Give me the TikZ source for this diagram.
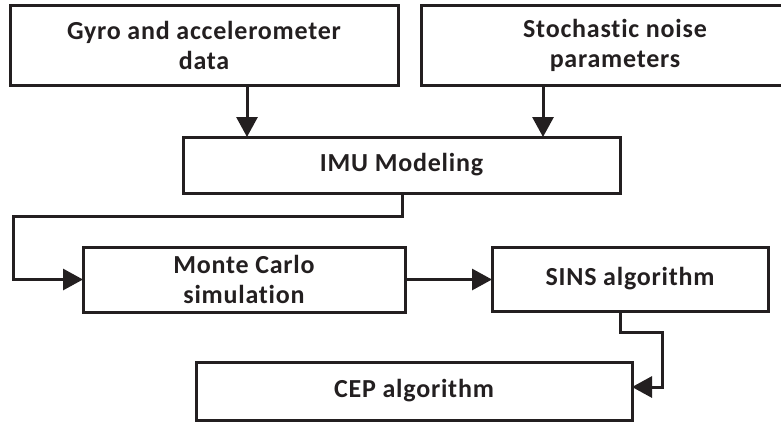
\documentclass[tikz,border=0pt]{standalone}
\usepackage{fontspec}
\setmainfont{Carlito}[Ligatures=NoCommon, LetterSpace=3]
\usetikzlibrary{arrows.meta}
\definecolor{ink}{HTML}{231F20}
\tikzset{
  box/.style={draw=ink, line width=3pt, rectangle, inner sep=0pt,
    align=center, font=\fontsize{26}{30}\selectfont\bfseries, text=ink},
  link/.style={draw=ink, line width=3pt},
  arr/.style={link, -{Triangle[length=20pt, width=21pt]}, shorten >=-1.5pt}
}
\begin{document}
\begin{tikzpicture}[x=1pt, y=-1pt]
  \useasboundingbox (0,0) rectangle (781,424);
  % input boxes
  \node[box, minimum width=388pt, minimum height=80pt] (gyro) at (204,45)
    {Gyro and accelerometer\\data};
  \node[box, minimum width=388pt, minimum height=80pt] (noise) at (615,45)
    {Stochastic noise\\parameters};
  % processing chain
  \node[box, minimum width=437pt, minimum height=56pt] (imu) at (401.5,165)
    {IMU Modeling};
  \node[box, minimum width=322pt, minimum height=65pt] (mc) at (244,279.5)
    {Monte Carlo\\simulation};
  \node[box, minimum width=276pt, minimum height=64pt] (sins) at (630,279)
    {SINS algorithm};
  \node[box, minimum width=436pt, minimum height=58pt] (cep) at (414,391)
    {CEP algorithm};
  % bend points of the elbow connectors
  \coordinate (imuA) at (402,216);
  \coordinate (imuB) at (13,216);
  \coordinate (sinsA) at (620,332);
  \coordinate (sinsB) at (662,332);
  \coordinate (sinsC) at (662,387);
  % connectors
  \draw[arr] (gyro.south -| 247,0) -- (imu.north -| 247,0);
  \draw[arr] (noise.south -| 543,0) -- (imu.north -| 543,0);
  \draw[arr] (imu.south -| imuA) -- (imuA) -- (imuB) |- (mc.west);
  \draw[arr] (mc.east) -- (sins.west |- mc.east);
  \draw[arr] (sins.south -| sinsA) -- (sinsA) -- (sinsB) -- (sinsC) -- (cep.east |- sinsC);
\end{tikzpicture}
\end{document}
